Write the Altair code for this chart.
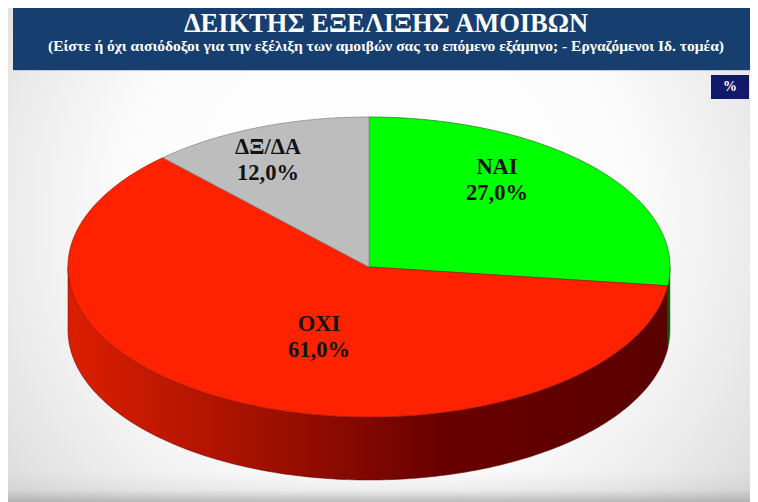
import math
import altair as alt

# ---- chart values ----
categories = ["ΝΑΙ", "ΟΧΙ", "ΔΞ/ΔΑ"]
shares = [27.0, 61.0, 12.0]
value_labels = ["27,0%", "61,0%", "12,0%"]
title_text = "ΔΕΙΚΤΗΣ ΕΞΕΛΙΞΗΣ ΑΜΟΙΒΩΝ"
subtitle_text = "(Είστε ή όχι αισιόδοξοι για την εξέλιξη των αμοιβών σας το επόμενο εξάμηνο; - Εργαζόμενοι Ιδ. τομέα)"
unit_text = "%"

# ---- style / layout ----
W, H = 742, 494
OFF = 8
CX, CY, RX, RY, DEPTH = 369 - OFF, 267 - OFF, 301, 150, 63
top_colors = ["#00ff00", "#ff2200", "#bdbdbd"]
stroke_colors = ["#1f8f1f", "#a81800", "#8c8c8c"]
label_anchor = [(497, 167), (319, 324), (268, 147)]
SERIF = "Liberation Serif"


def pt(deg, dy=0.0):
    a = math.radians(deg)
    return [CX + RX * math.sin(a), CY - RY * math.cos(a) + dy]


def arc(a0, a1, dy=0.0):
    n = max(2, int(abs(a1 - a0)) + 1)
    return [pt(a0 + (a1 - a0) * i / n, dy) for i in range(n + 1)]


def feature(ring, name):
    return {
        "type": "Feature",
        "properties": {"name": name},
        "geometry": {"type": "Polygon", "coordinates": [ring + [ring[0]]]},
    }


# slices are derived from the shares, clockwise from 12 o'clock
starts, acc = [], 0.0
for s in shares:
    starts.append(acc)
    acc += s * 3.6
ends = [s + v * 3.6 for s, v in zip(starts, shares)]

top_faces = [
    feature([[CX, CY]] + arc(a0, a1), c)
    for c, a0, a1 in zip(categories, starts, ends)
]


def wall(a0, a1, name):
    return feature(arc(a0, a1) + arc(a1, a0, DEPTH), name)


green_wall = wall(90, ends[0], categories[0])
red_wall = wall(ends[0], 270, categories[1])

PROJ = dict(type="identity", scale=1, translate=[0, 0])


def box(x0, x1, y0, y1, **kw):
    return alt.Chart(alt.Data(values=[{"a": 1}])).mark_rect(**kw).encode(
        x=alt.value(x0 - OFF), x2=alt.value(x1 - OFF),
        y=alt.value(y0 - OFF), y2=alt.value(y1 - OFF),
    )


def text(s, x, y, size, color, weight="bold"):
    return alt.Chart(alt.Data(values=[{"t": s}])).mark_text(
        font=SERIF, fontSize=size, fontWeight=weight, color=color,
        align="center", baseline="middle",
    ).encode(x=alt.value(x - OFF), y=alt.value(y - OFF), text="t:N")


background = box(
    OFF, 750, OFF, 502,
    fill=alt.RadialGradient(
        gradient="radial", x1=0.5, y1=0.45, x2=0.5, y2=0.45, r1=0.0, r2=0.62,
        stops=[
            alt.GradientStop(offset=0, color="#ffffff"),
            alt.GradientStop(offset=0.55, color="#fcfcfc"),
            alt.GradientStop(offset=0.8, color="#ececec"),
            alt.GradientStop(offset=1, color="#dcdcdc"),
        ],
    ),
)
bottom_shade = box(
    OFF, 750, 472, 502,
    fill=alt.LinearGradient(
        gradient="linear", x1=0, y1=0, x2=0, y2=1,
        stops=[
            alt.GradientStop(offset=0, color="rgba(150,150,150,0)"),
            alt.GradientStop(offset=0.6, color="rgba(150,150,150,0.12)"),
            alt.GradientStop(offset=1, color="rgba(150,150,150,0.6)"),
        ],
    ),
)

banner_edge = box(13, 755, 0, 71, fill="#bccbe0")
banner = box(13, 755, 0, 70, fill="#163f70", cornerRadiusTopRight=14)
unit_box = box(711, 749, 75, 99, fill="#10196a")

red_wall_layer = alt.Chart(alt.Data(values=[red_wall])).mark_geoshape(
    fill=alt.LinearGradient(
        gradient="linear", x1=0, y1=0, x2=1, y2=0,
        stops=[
            alt.GradientStop(offset=0, color="#dc1e00"),
            alt.GradientStop(offset=0.11, color="#c81a00"),
            alt.GradientStop(offset=0.33, color="#a01000"),
            alt.GradientStop(offset=0.5, color="#800800"),
            alt.GradientStop(offset=0.62, color="#680000"),
            alt.GradientStop(offset=1, color="#5a0000"),
        ],
    ),
    stroke="#5a0000", strokeWidth=0.5,
).project(**PROJ)

green_wall_layer = alt.Chart(alt.Data(values=[green_wall])).mark_geoshape(
    fill="#0a5a0a", stroke="#1f7a1f", strokeWidth=0.5
).project(**PROJ)

faces_layer = alt.Chart(alt.Data(values=top_faces)).mark_geoshape(
    strokeWidth=0.8
).encode(
    fill=alt.Fill("properties.name:N",
                  scale=alt.Scale(domain=categories, range=top_colors), legend=None),
    stroke=alt.Stroke("properties.name:N",
                      scale=alt.Scale(domain=categories, range=stroke_colors), legend=None),
).project(**PROJ)

labels = []
for name, val, (lx, ly) in zip(categories, value_labels, label_anchor):
    labels.append(text(name, lx, ly, 22.5, "#111111"))
    labels.append(text(val, lx, ly + 25.5, 22.5, "#111111"))

chart = alt.layer(
    background,
    bottom_shade,
    banner_edge,
    banner,
    unit_box,
    green_wall_layer,
    red_wall_layer,
    faces_layer,
    text(title_text, 386, 24, 26.5, "#ffffff"),
    text(subtitle_text, 386, 46, 15.5, "#ffffff"),
    text(unit_text, 730, 87, 14, "#ffffff"),
    *labels,
).properties(
    width=W, height=H, padding=0, autosize=alt.AutoSizeParams(type="none"),
).configure_view(stroke=None)

chart.save("out.html", embed_options={"renderer": "svg", "actions": False})
